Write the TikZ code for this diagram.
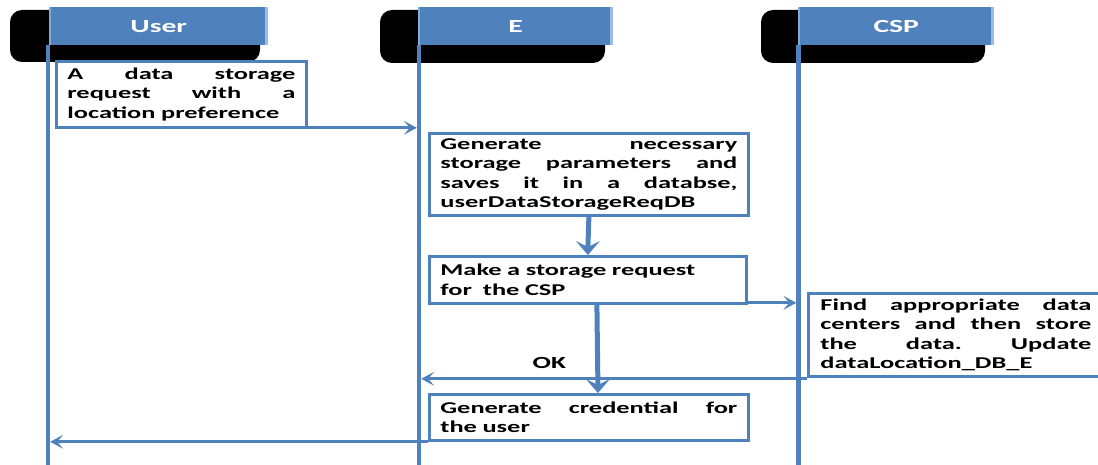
\documentclass[tikz,border=0pt]{standalone}
\usepackage{fontspec}
\newfontfamily\boxfont[FakeStretch=1.6]{Carlito}
\definecolor{blu}{HTML}{4F81BD}
\definecolor{bluhi}{HTML}{9BBBE0}
% a line of text spread to the full box width
\newcommand\jline[1]{\makebox[\linewidth][s]{\spaceskip=0.3em plus 1fil\relax
  \xspaceskip=0.3em plus 1fil\relax #1}}
\tikzset{
  hdr/.style={fill=blu, text=white, anchor=north west, inner sep=0pt,
    minimum height=38pt, font=\boxfont\bfseries\fontsize{18.5}{20}\selectfont,
    path picture={
      \fill[bluhi] ([xshift=-3pt]path picture bounding box.north east) rectangle (path picture bounding box.south east);
      \fill[bluhi!70!blu] (path picture bounding box.north west) rectangle ([xshift=1.5pt]path picture bounding box.south west);
    }},
  tab/.style={fill=black, rounded corners=12pt},
  life/.style={draw=blu, line width=4.5pt},
  stepbox/.style={draw=blu, line width=2.8pt, fill=white, anchor=north west,
    align=left, inner xsep=11pt, inner ysep=0pt,
    font=\boxfont\bfseries\fontsize{16.5}{19.5}\selectfont},
  msg/.style={draw=blu, line width=3pt},
  flow/.style={draw=blu, line width=5pt},
  head/.style={fill=blu},
  lbl/.style={font=\boxfont\bfseries\fontsize{17}{19.5}\selectfont, inner sep=0pt}
}
\begin{document}
\begin{tikzpicture}[x=1pt,y=-1pt]
  \useasboundingbox (0,0) rectangle (1098,465);
  \coordinate (bottom) at (0,465);

  % black tabs behind the column headers
  \fill[tab] (10,10) rectangle (260,62);
  \fill[tab] (380,10) rectangle (605,63);
  \fill[tab] (761,10) rectangle (985,63);

  % column headers
  \node[hdr, minimum width=219pt] (hU) at (49,7) {User};
  \node[hdr, minimum width=195pt] (hE) at (418,7) {E};
  \node[hdr, minimum width=196pt] (hC) at (798,7) {CSP};

  % lifelines
  \coordinate (uL) at ([xshift=-1pt]hU.south west);
  \coordinate (eL) at ([xshift=1pt]hE.south west);
  \coordinate (cL) at ([xshift=0.5pt]hC.south west);
  \draw[life] (uL) -- (uL |- bottom);
  \draw[life] (eL) -- (eL |- bottom);
  \draw[life] (cL) -- (cL |- bottom);

  % steps
  \node[stepbox, text width=228pt, minimum height=66pt] (b1) at (55,60)
    {\jline{A data storage}\\ \jline{request with a}\\ location preference};
  \node[stepbox, text width=297pt, minimum height=82pt] (b2) at (428,132)
    {\jline{Generate necessary}\\ \jline{storage parameters and}\\
     \jline{saves it in a databse,}\\ userDataStorageReqDB};
  \node[stepbox, text width=295pt, minimum height=47pt] (b3) at (428,255)
    {Make a storage request\\ for~ the CSP};
  \node[stepbox, text width=271pt, inner xsep=12pt, minimum height=83pt] (b4) at (807,292)
    {\jline{Find appropriate data}\\ \jline{centers and then store}\\
     \jline{the data. Update}\\ dataLocation\_DB\_E};
  \node[stepbox, text width=297pt, minimum height=46pt] (b5) at (428,393)
    {\jline{Generate credential for}\\ the user};

  % messages between lifelines (shaft, then a notched head)
  \coordinate (t1) at ([yshift=1pt]b1.south east -| eL);
  \draw[msg] ([yshift=1pt]b1.south east) -- ([xshift=-9pt]t1);
  \fill[head] ([xshift=-2.2pt]t1) -- ++(-13,-7) -- ++(6,7) -- ++(-6,7) -- cycle;

  \coordinate (t2) at ([yshift=2pt]b3.south east -| cL);
  \draw[msg] ([yshift=2pt]b3.south east) -- ([xshift=-9pt]t2);
  \fill[head] ([xshift=-2.2pt]t2) -- ++(-13,-7) -- ++(6,7) -- ++(-6,7) -- cycle;

  \coordinate (t3) at ([yshift=-1pt]b4.south west -| eL);
  \draw[msg] ([yshift=-1pt]b4.south west) -- ([xshift=9pt]t3)
    node[lbl, pos=0.68, above=9pt] (ok) {OK};
  \fill[head] ([xshift=2.2pt]t3) -- ++(13,-7) -- ++(-6,7) -- ++(6,7) -- cycle;

  \coordinate (t4) at (b5.south west -| uL);
  \draw[msg] (b5.south west) -- ([xshift=9pt]t4);
  \fill[head] ([xshift=2.2pt]t4) -- ++(13,-7) -- ++(-6,7) -- ++(6,7) -- cycle;

  % internal flow at E
  \draw[flow] (b2.south) -- ([yshift=8pt]b3.north);
  \fill[head] (b3.north) -- ++(-12,-14) -- ++(12,6) -- ++(12,-6) -- cycle;

  \coordinate (f2a) at ([xshift=9pt]b3.south);
  \coordinate (f2b) at ([xshift=9pt]b5.north);
  \draw[flow] (f2a) -- ([yshift=8pt]f2b);
  \fill[head] (f2b) -- ++(-12,-14) -- ++(12,6) -- ++(12,-6) -- cycle;
\end{tikzpicture}
\end{document}
